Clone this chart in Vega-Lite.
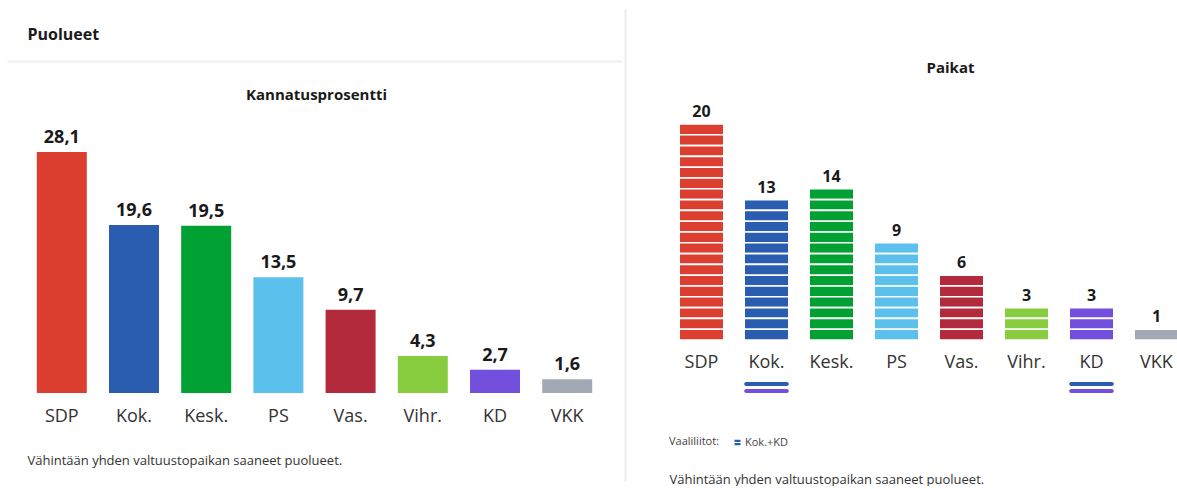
{
  "$schema": "https://vega.github.io/schema/vega-lite/v6.json",
  "padding": {"left": 7, "top": 9, "right": 0, "bottom": 0},
  "spacing": 3,
  "config": {
    "font": "Open Sans",
    "view": {"stroke": null},
    "locale": {"number": {"decimal": ",", "thousands": " ", "grouping": [3], "currency": ["", " €"]}},
    "axis": {"labelFont": "Open Sans", "titleFont": "Open Sans"},
    "legend": {"labelFont": "Open Sans", "titleFont": "Open Sans"}
  },
  "datasets": {
    "puolueet": [
      {"puolue": "SDP", "pct": 28.1, "seats": 20},
      {"puolue": "Kok.", "pct": 19.6, "seats": 13},
      {"puolue": "Kesk.", "pct": 19.5, "seats": 14},
      {"puolue": "PS", "pct": 13.5, "seats": 9},
      {"puolue": "Vas.", "pct": 9.7, "seats": 6},
      {"puolue": "Vihr.", "pct": 4.3, "seats": 3},
      {"puolue": "KD", "pct": 2.7, "seats": 3},
      {"puolue": "VKK", "pct": 1.6, "seats": 1}
    ],
    "paikat": [
      {"puolue": "SDP", "paikka": 1}, {"puolue": "SDP", "paikka": 2}, {"puolue": "SDP", "paikka": 3}, {"puolue": "SDP", "paikka": 4}, {"puolue": "SDP", "paikka": 5},
      {"puolue": "SDP", "paikka": 6}, {"puolue": "SDP", "paikka": 7}, {"puolue": "SDP", "paikka": 8}, {"puolue": "SDP", "paikka": 9}, {"puolue": "SDP", "paikka": 10},
      {"puolue": "SDP", "paikka": 11}, {"puolue": "SDP", "paikka": 12}, {"puolue": "SDP", "paikka": 13}, {"puolue": "SDP", "paikka": 14}, {"puolue": "SDP", "paikka": 15},
      {"puolue": "SDP", "paikka": 16}, {"puolue": "SDP", "paikka": 17}, {"puolue": "SDP", "paikka": 18}, {"puolue": "SDP", "paikka": 19}, {"puolue": "SDP", "paikka": 20},
      {"puolue": "Kok.", "paikka": 1}, {"puolue": "Kok.", "paikka": 2}, {"puolue": "Kok.", "paikka": 3}, {"puolue": "Kok.", "paikka": 4}, {"puolue": "Kok.", "paikka": 5},
      {"puolue": "Kok.", "paikka": 6}, {"puolue": "Kok.", "paikka": 7}, {"puolue": "Kok.", "paikka": 8}, {"puolue": "Kok.", "paikka": 9}, {"puolue": "Kok.", "paikka": 10},
      {"puolue": "Kok.", "paikka": 11}, {"puolue": "Kok.", "paikka": 12}, {"puolue": "Kok.", "paikka": 13},
      {"puolue": "Kesk.", "paikka": 1}, {"puolue": "Kesk.", "paikka": 2}, {"puolue": "Kesk.", "paikka": 3}, {"puolue": "Kesk.", "paikka": 4}, {"puolue": "Kesk.", "paikka": 5},
      {"puolue": "Kesk.", "paikka": 6}, {"puolue": "Kesk.", "paikka": 7}, {"puolue": "Kesk.", "paikka": 8}, {"puolue": "Kesk.", "paikka": 9}, {"puolue": "Kesk.", "paikka": 10},
      {"puolue": "Kesk.", "paikka": 11}, {"puolue": "Kesk.", "paikka": 12}, {"puolue": "Kesk.", "paikka": 13}, {"puolue": "Kesk.", "paikka": 14},
      {"puolue": "PS", "paikka": 1}, {"puolue": "PS", "paikka": 2}, {"puolue": "PS", "paikka": 3}, {"puolue": "PS", "paikka": 4}, {"puolue": "PS", "paikka": 5},
      {"puolue": "PS", "paikka": 6}, {"puolue": "PS", "paikka": 7}, {"puolue": "PS", "paikka": 8}, {"puolue": "PS", "paikka": 9},
      {"puolue": "Vas.", "paikka": 1}, {"puolue": "Vas.", "paikka": 2}, {"puolue": "Vas.", "paikka": 3}, {"puolue": "Vas.", "paikka": 4}, {"puolue": "Vas.", "paikka": 5}, {"puolue": "Vas.", "paikka": 6},
      {"puolue": "Vihr.", "paikka": 1}, {"puolue": "Vihr.", "paikka": 2}, {"puolue": "Vihr.", "paikka": 3},
      {"puolue": "KD", "paikka": 1}, {"puolue": "KD", "paikka": 2}, {"puolue": "KD", "paikka": 3},
      {"puolue": "VKK", "paikka": 1}
    ],
    "liitot": [
      {"puolue": "Kok.", "liitto": "Kok.+KD"},
      {"puolue": "KD", "liitto": "Kok.+KD"}
    ]
  },
  "resolve": {"legend": {"fill": "independent"}},
  "hconcat": [
    {
      "width": 615,
      "height": 384,
      "data": {"name": "puolueet"},
      "encoding": {
        "x": {
          "field": "puolue", "type": "nominal",
          "sort": ["SDP", "Kok.", "Kesk.", "PS", "Vas.", "Vihr.", "KD", "VKK"],
          "scale": {"paddingInner": 0.3075, "paddingOuter": 0.4127},
          "axis": {
            "title": "Vähintään yhden valtuustopaikan saaneet puolueet.",
            "titleAnchor": "start", "titleAlign": "left", "titleX": 20, "titleY": 71,
            "titleBaseline": "alphabetic", "titleFontSize": 13, "titleFontWeight": "normal", "titleColor": "#333333",
            "labelAngle": 0, "labelFontSize": 18, "labelColor": "#333333", "labelPadding": 14,
            "domain": false, "ticks": false
          }
        }
      },
      "layer": [
        {
          "mark": {"type": "bar"},
          "encoding": {
            "y": {
              "field": "pct", "type": "quantitative",
              "scale": {"domain": [0, 44.77], "nice": false},
              "axis": {
                "orient": "left", "title": "Puolueet", "titleAngle": 0, "titleAlign": "left", "titleBaseline": "middle",
                "titleX": 20, "titleY": 25, "titleFontSize": 16, "titleFontWeight": "bold", "titleColor": "#1a1a1a",
                "domain": false, "ticks": false, "labels": false,
                "grid": true, "values": [38.71], "gridColor": "#efefef", "gridWidth": 2
              }
            },
            "color": {
              "field": "puolue", "type": "nominal",
              "scale": {
                "domain": ["SDP", "Kok.", "Kesk.", "PS", "Vas.", "Vihr.", "KD", "VKK"],
                "range": ["#dc3f30", "#2a5caf", "#00a032", "#5bc1ec", "#b22a3b", "#88cc40", "#7250dd", "#a1aab2"]
              },
              "legend": null
            }
          }
        },
        {
          "mark": {"type": "text", "baseline": "alphabetic", "dy": -9, "fontSize": 18, "fontWeight": "bold", "color": "#1a1a1a"},
          "encoding": {
            "y": {
              "field": "pct", "type": "quantitative",
              "scale": {"domain": [0, 44.77], "nice": false},
              "axis": {
                "orient": "right", "title": "Kannatusprosentti", "titleAngle": 0, "titleAlign": "center", "titleBaseline": "middle",
                "titleX": -306, "titleY": 85, "titleFontSize": 15, "titleFontWeight": "bold", "titleColor": "#1a1a1a",
                "domain": false, "ticks": false, "labels": false, "grid": false
              }
            },
            "text": {"field": "pct", "type": "quantitative", "format": ".1f"}
          }
        }
      ],
      "resolve": {"axis": {"y": "independent"}}
    },
    {
      "width": 552,
      "height": 472,
      "encoding": {
        "x": {
          "field": "puolue", "type": "nominal",
          "sort": ["SDP", "Kok.", "Kesk.", "PS", "Vas.", "Vihr.", "KD", "VKK"],
          "scale": {"range": [0, 608], "paddingInner": 0.3138, "paddingOuter": 0.8338},
          "axis": {
            "title": "Vähintään yhden valtuustopaikan saaneet puolueet.",
            "titleAnchor": "start", "titleAlign": "left", "titleX": 44, "titleY": 143,
            "titleBaseline": "alphabetic", "titleFontSize": 13, "titleFontWeight": "normal", "titleColor": "#333333",
            "offset": -141,
            "labelAngle": 0, "labelFontSize": 18, "labelColor": "#333333", "labelPadding": 13,
            "domain": false, "ticks": false
          }
        }
      },
      "layer": [
        {
          "data": {"name": "paikat"},
          "mark": {"type": "bar", "stroke": "white", "strokeWidth": 1.6, "clip": true},
          "encoding": {
            "y": {
              "aggregate": "count", "type": "quantitative", "stack": "zero",
              "scale": {"domain": [-13.056, 30.648], "nice": false, "zero": false},
              "axis": {
                "orient": "left", "title": "Paikat", "titleAngle": 0, "titleAlign": "center", "titleBaseline": "middle",
                "titleX": 325, "titleY": 58, "titleFontSize": 15, "titleFontWeight": "bold", "titleColor": "#1a1a1a",
                "domain": true, "domainColor": "#ececec", "domainWidth": 2, "domainOpacity": 1,
                "ticks": false, "labels": false, "grid": false
              }
            },
            "detail": {"field": "paikka", "type": "ordinal"},
            "color": {
              "field": "puolue", "type": "nominal",
              "scale": {
                "domain": ["SDP", "Kok.", "Kesk.", "PS", "Vas.", "Vihr.", "KD", "VKK"],
                "range": ["#dc3f30", "#2a5caf", "#00a032", "#5bc1ec", "#b22a3b", "#88cc40", "#7250dd", "#a1aab2"]
              },
              "legend": null
            }
          }
        },
        {
          "data": {"name": "puolueet"},
          "mark": {"type": "text", "baseline": "alphabetic", "dy": -7, "fontSize": 16, "fontWeight": "bold", "color": "#1a1a1a"},
          "encoding": {
            "y": {
              "field": "seats", "type": "quantitative",
              "scale": {"domain": [-13.056, 30.648], "nice": false, "zero": false},
              "axis": {
                "orient": "left", "title": "Paikat", "titleAngle": 0, "titleAlign": "center", "titleBaseline": "middle",
                "titleX": 325, "titleY": 58, "titleFontSize": 15, "titleFontWeight": "bold", "titleColor": "#1a1a1a",
                "domain": true, "domainColor": "#ececec", "domainWidth": 2, "domainOpacity": 1,
                "ticks": false, "labels": false, "grid": false
              }
            },
            "text": {"field": "seats", "type": "quantitative"}
          }
        },
        {
          "data": {"name": "liitot"},
          "mark": {"type": "bar", "cornerRadius": 2},
          "encoding": {
            "y": {
              "datum": -3.889, "type": "quantitative",
              "axis": {
                "orient": "left", "title": "Paikat", "titleAngle": 0, "titleAlign": "center", "titleBaseline": "middle",
                "titleX": 325, "titleY": 58, "titleFontSize": 15, "titleFontWeight": "bold", "titleColor": "#1a1a1a",
                "domain": true, "domainColor": "#ececec", "domainWidth": 2, "domainOpacity": 1,
                "ticks": false, "labels": false, "grid": false
              }
            },
            "y2": {"datum": -4.259},
            "fill": {
              "field": "liitto", "type": "nominal",
              "scale": {"domain": ["Kok.+KD"], "range": ["#2a5caf"]},
              "legend": {
                "orient": "none", "legendX": 44, "legendY": 428, "direction": "horizontal",
                "title": "Vaaliliitot:", "titleOrient": "left", "titleFontSize": 11, "titleFontWeight": "normal",
                "titleColor": "#444444", "titlePadding": 12,
                "labelFontSize": 11, "labelColor": "#444444", "labelOffset": 2,
                "symbolType": "M-1,-0.9H1V-0.15H-1Z M-1,0.15H1V0.9H-1Z", "symbolSize": 36, "symbolStrokeWidth": 0
              }
            }
          }
        },
        {
          "data": {"name": "liitot"},
          "mark": {"type": "bar", "cornerRadius": 2, "color": "#7250dd"},
          "encoding": {
            "y": {
              "datum": -4.537, "type": "quantitative",
              "axis": {
                "orient": "left", "title": "Paikat", "titleAngle": 0, "titleAlign": "center", "titleBaseline": "middle",
                "titleX": 325, "titleY": 58, "titleFontSize": 15, "titleFontWeight": "bold", "titleColor": "#1a1a1a",
                "domain": true, "domainColor": "#ececec", "domainWidth": 2, "domainOpacity": 1,
                "ticks": false, "labels": false, "grid": false
              }
            },
            "y2": {"datum": -4.907}
          }
        }
      ]
    }
  ]
}
